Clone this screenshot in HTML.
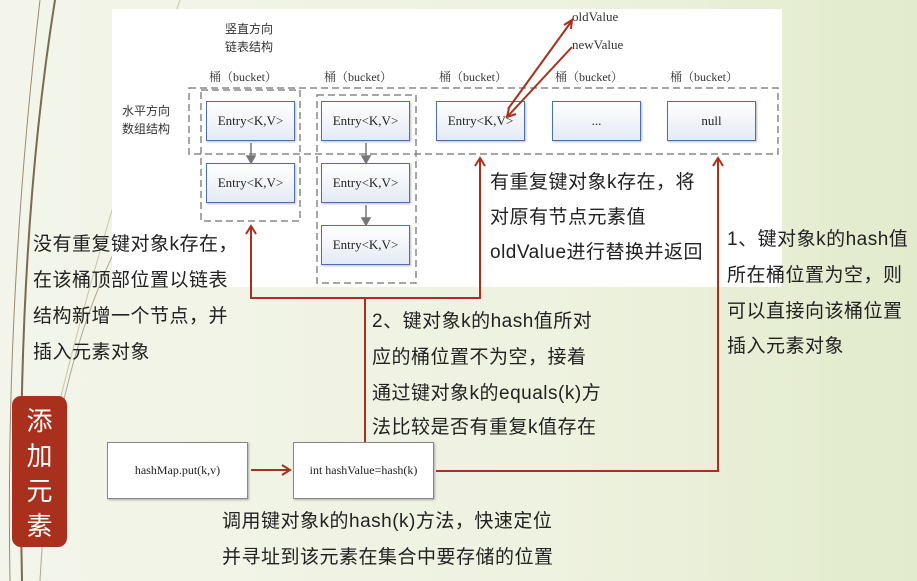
<!DOCTYPE html>
<html><head><meta charset="utf-8"><style>
body{margin:0;width:917px;height:581px;overflow:hidden;background:linear-gradient(90deg,#f3f5ea 0%,#eef2e0 60%,#e2ebcc 100%);font-family:"Liberation Sans","Noto Sans CJK SC",sans-serif;position:relative}
.t{position:absolute;font-size:19px;letter-spacing:0.5px;color:#222;white-space:nowrap;line-height:20px}
.s{position:absolute;font-family:"Liberation Serif","Noto Serif CJK SC",serif;font-size:12px;color:#333;white-space:nowrap}
.e{position:absolute;width:87px;height:38px;border:1.5px solid #4f6fa8;background:linear-gradient(#fff,#e4eaf4);font-family:"Liberation Serif",serif;font-size:13px;color:#222;text-align:center;line-height:38px;box-shadow:1px 1px 2px #bbb}
.b{position:absolute;background:#fff;border:1.5px solid #888;font-family:"Liberation Serif",serif;font-size:12px;text-align:center;line-height:55px;color:#222;box-shadow:1px 1px 2px #aaa}
</style></head><body>
<svg width="917" height="581" style="position:absolute;left:0;top:0">
<path d="M55 0 Q15 250 22 581" stroke="#7a6a50" stroke-width="2" fill="none"/>
<path d="M40 0 Q5 300 10 581" stroke="#9a8a70" stroke-width="1" fill="none"/>
<path d="M120 240 Q50 380 40 581" stroke="#b0a890" stroke-width="1" fill="none"/>
<path d="M180 0 Q110 200 60 400" stroke="#c8c4a8" stroke-width="1" fill="none"/>
<rect x="112" y="9" width="670" height="278" fill="#fff"/>
</svg>
<div class="s" style="left:225px;top:20px;font-family:'Noto Sans CJK SC',sans-serif;font-size:12px">竖直方向</div>
<div class="s" style="left:225px;top:38px;font-family:'Noto Sans CJK SC',sans-serif;font-size:12px">链表结构</div>
<div class="s" style="left:122px;top:102px;font-family:'Noto Sans CJK SC',sans-serif;font-size:12px">水平方向</div>
<div class="s" style="left:122px;top:120px;font-family:'Noto Sans CJK SC',sans-serif;font-size:12px">数组结构</div>
<div class="s" style="left:209px;top:68px">桶（bucket）</div>
<div class="s" style="left:324px;top:68px">桶（bucket）</div>
<div class="s" style="left:439px;top:68px">桶（bucket）</div>
<div class="s" style="left:555px;top:68px">桶（bucket）</div>
<div class="s" style="left:670px;top:68px">桶（bucket）</div>
<div class="s" style="left:572px;top:9px;font-size:13px">oldValue</div>
<div class="s" style="left:572px;top:37px;font-size:13px">newValue</div>
<div class="e" style="left:206px;top:101px">Entry&lt;K,V&gt;</div>
<div class="e" style="left:206px;top:163px">Entry&lt;K,V&gt;</div>
<div class="e" style="left:321px;top:101px">Entry&lt;K,V&gt;</div>
<div class="e" style="left:321px;top:163px">Entry&lt;K,V&gt;</div>
<div class="e" style="left:321px;top:225px">Entry&lt;K,V&gt;</div>
<div class="e" style="left:436px;top:101px">Entry&lt;K,V&gt;</div>
<div class="e" style="left:552px;top:101px">...</div>
<div class="e" style="left:667px;top:101px">null</div>
<div class="b" style="left:107px;top:442px;width:139px;height:55px">hashMap.put(k,v)</div>
<div class="b" style="left:293px;top:442px;width:139px;height:55px">int hashValue=hash(k)</div>
<svg width="917" height="581" style="position:absolute;left:0;top:0">
<g fill="none" stroke="#888" stroke-width="1.5" stroke-dasharray="7,4">
<rect x="189" y="88" width="589" height="66"/>
<rect x="201" y="90" width="99" height="131"/>
<rect x="317" y="95" width="99" height="188"/>
</g>
<g stroke="#777" stroke-width="1.5" fill="#777">
<line x1="251" y1="143" x2="251" y2="158"/><path d="M247 156 L251 163 L255 156Z"/>
<line x1="366" y1="143" x2="366" y2="158"/><path d="M362 156 L366 163 L370 156Z"/>
<line x1="366" y1="205" x2="366" y2="220"/><path d="M362 218 L366 225 L370 218Z"/>
</g>
<g stroke="#a8301c" stroke-width="2" fill="none">
<line x1="508" y1="109" x2="571" y2="22"/><path d="M564 25 L572 20 L571 29"/>
<line x1="572" y1="47" x2="508" y2="116"/><path d="M509 108 L507 117 L516 114"/>
<path d="M251 228 V298 H480 V160"/>
<path d="M246 234 L251 226 L256 234"/><path d="M475 166 L480 158 L485 166"/>
<line x1="365" y1="298" x2="365" y2="442"/>
<path d="M436 471 H718 V160"/><path d="M713 166 L718 158 L723 166"/>
<line x1="251" y1="470" x2="288" y2="470"/><path d="M282 465 L290 470 L282 475"/>
</g>
</svg>
<div style="position:absolute;left:12px;top:396px;width:55px;height:151px;background:#a8301c;border-radius:9px;color:#fff;font-family:'Noto Sans CJK SC',sans-serif;font-size:26px;line-height:35px;text-align:center;padding-top:6px;box-sizing:border-box">添<br>加<br>元<br>素</div>
<div class="t" style="left:33px;top:235px">没有重复键对象k存在，</div>
<div class="t" style="left:33px;top:271px">在该桶顶部位置以链表</div>
<div class="t" style="left:33px;top:307px">结构新增一个节点，并</div>
<div class="t" style="left:33px;top:343px">插入元素对象</div>
<div class="t" style="left:490px;top:173px">有重复键对象k存在，将</div>
<div class="t" style="left:490px;top:208px">对原有节点元素值</div>
<div class="t" style="left:490px;top:243px">oldValue进行替换并返回</div>
<div class="t" style="left:372px;top:312px">2、键对象k的hash值所对</div>
<div class="t" style="left:372px;top:348px">应的桶位置不为空，接着</div>
<div class="t" style="left:372px;top:384px">通过键对象k的equals(k)方</div>
<div class="t" style="left:372px;top:418px">法比较是否有重复k值存在</div>
<div class="t" style="left:727px;top:230px">1、键对象k的hash值</div>
<div class="t" style="left:727px;top:266px">所在桶位置为空，则</div>
<div class="t" style="left:727px;top:302px">可以直接向该桶位置</div>
<div class="t" style="left:727px;top:337px">插入元素对象</div>
<div class="t" style="left:222px;top:512px">调用键对象k的hash(k)方法，快速定位</div>
<div class="t" style="left:222px;top:548px">并寻址到该元素在集合中要存储的位置</div>
</body></html>
